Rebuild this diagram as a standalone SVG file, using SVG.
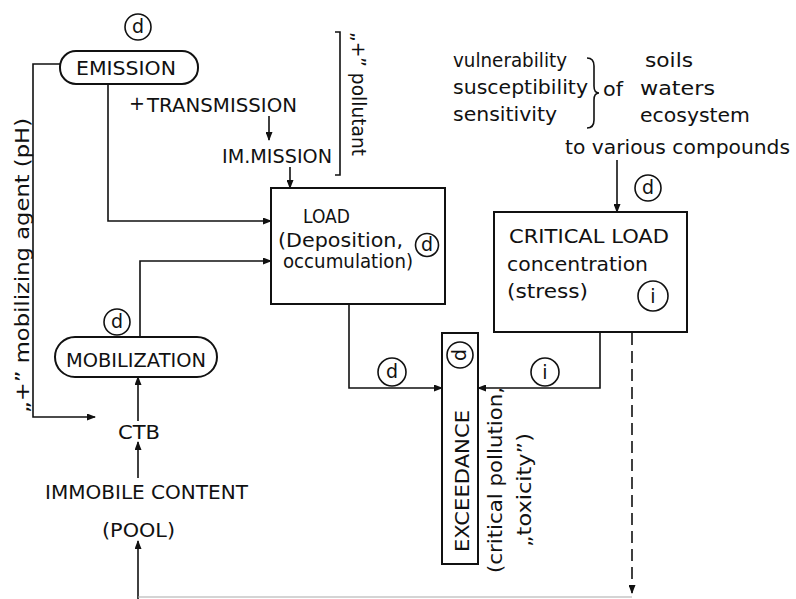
<svg xmlns="http://www.w3.org/2000/svg" width="796" height="599" viewBox="0 0 796 599">
<style>
  text { font-family: "DejaVu Sans", "Liberation Sans", sans-serif; font-size: 19px; fill: #111; }
  .ln { fill: none; stroke: #111; stroke-width: 1.6; }
  .box { fill: #fff; stroke: #111; stroke-width: 2; }
  .circ { fill: #fff; stroke: #111; stroke-width: 1.6; }
  .lab { text-anchor: middle; font-size: 19px; }
  .dash { fill: none; stroke: #111; stroke-width: 1.6; stroke-dasharray: 12 6; }
</style>
<defs>
  <marker id="ah" markerWidth="9" markerHeight="7" refX="8" refY="3.5" orient="auto" markerUnits="userSpaceOnUse">
    <path d="M0,0 L9,3.5 L0,7 Z" fill="#111"/>
  </marker>
</defs>
<rect x="0" y="0" width="796" height="599" fill="#fff"/>

<g id="connectors">
  <path class="ln" d="M60,64 H33 V417 H95" marker-end="url(#ah)"/>
  <path class="ln" d="M108,84 V221 H271" marker-end="url(#ah)"/>
  <path class="ln" d="M269,116 V140" marker-end="url(#ah)"/>
  <path class="ln" d="M290,167 V188" marker-end="url(#ah)"/>
  <path class="ln" d="M140,337 V261 H271" marker-end="url(#ah)"/>
  <path class="ln" d="M138,421 V377" marker-end="url(#ah)"/>
  <path class="ln" d="M138,478 V442" marker-end="url(#ah)"/>
  <path class="ln" d="M138,599 V541" marker-end="url(#ah)"/>
  <path d="M138,597 H632" fill="none" stroke="#aaa" stroke-width="1.2"/>
  <path class="dash" d="M632,333 V593" marker-end="url(#ah)"/>
  <path class="ln" d="M617,160 V212" marker-end="url(#ah)"/>
  <path class="ln" d="M349,304 V388 H442" marker-end="url(#ah)"/>
  <path class="ln" d="M600,332 V388 H478" marker-end="url(#ah)"/>
  <path class="ln" d="M335,32 H340 V175 H335"/>
  <path class="ln" d="M587,58 Q594,58 594,66 V86 Q594,93 599,93 Q594,93 594,100 V120 Q594,128 587,128"/>
</g>

<g id="emission">
  <circle class="circ" cx="138" cy="27" r="13"/>
  <text class="lab" x="138" y="33">d</text>
  <rect class="box" x="60" y="51" width="138" height="33" rx="16" stroke-width="1.8"/>
  <text x="76" y="75" textLength="100" lengthAdjust="spacingAndGlyphs">EMISSION</text>
</g>

<g id="transmission">
  <text x="129" y="110" font-size="14">+</text>
  <text x="147" y="112" textLength="150" lengthAdjust="spacingAndGlyphs">TRANSMISSION</text>
</g>

<g id="immission">
  <text x="222" y="163" textLength="110" lengthAdjust="spacingAndGlyphs">IM.MISSION</text>
</g>

<g id="pollutant">
  <text transform="translate(352,32) rotate(90)" textLength="124" lengthAdjust="spacingAndGlyphs">„+” pollutant</text>
</g>

<g id="mobilizing-agent">
  <text transform="translate(29,413) rotate(-90)" textLength="295" lengthAdjust="spacingAndGlyphs">„+” mobilizing agent (pH)</text>
</g>

<g id="load">
  <rect class="box" x="271" y="188" width="174" height="116"/>
  <text x="303" y="223" textLength="47" lengthAdjust="spacingAndGlyphs">LOAD</text>
  <text x="278" y="247" textLength="125" lengthAdjust="spacingAndGlyphs">(Deposition,</text>
  <text x="283" y="268" textLength="130" lengthAdjust="spacingAndGlyphs">occumulation)</text>
  <circle class="circ" cx="427" cy="245" r="11.5"/>
  <text class="lab" x="427" y="251" font-size="17">d</text>
</g>

<g id="vulnerability">
  <text x="453" y="67" textLength="114" lengthAdjust="spacingAndGlyphs">vulnerability</text>
  <text x="453" y="94" textLength="135" lengthAdjust="spacingAndGlyphs">susceptibility</text>
  <text x="453" y="121" textLength="104" lengthAdjust="spacingAndGlyphs">sensitivity</text>
  <text x="603" y="96" textLength="20" lengthAdjust="spacingAndGlyphs">of</text>
  <text x="645" y="67" textLength="48" lengthAdjust="spacingAndGlyphs">soils</text>
  <text x="640" y="95" textLength="75" lengthAdjust="spacingAndGlyphs">waters</text>
  <text x="640" y="122" textLength="110" lengthAdjust="spacingAndGlyphs">ecosystem</text>
  <text x="565" y="154" textLength="225" lengthAdjust="spacingAndGlyphs">to various compounds</text>
  <circle class="circ" cx="648" cy="188" r="13"/>
  <text class="lab" x="648" y="194">d</text>
</g>

<g id="critical-load">
  <rect class="box" x="494" y="212" width="193" height="120"/>
  <text x="509" y="243" textLength="160" lengthAdjust="spacingAndGlyphs">CRITICAL LOAD</text>
  <text x="507" y="271" textLength="141" lengthAdjust="spacingAndGlyphs">concentration</text>
  <text x="507" y="298" textLength="81" lengthAdjust="spacingAndGlyphs">(stress)</text>
  <circle class="circ" cx="653" cy="296" r="15"/>
  <text class="lab" x="653" y="303">i</text>
</g>

<g id="mobilization">
  <circle class="circ" cx="117" cy="322" r="13"/>
  <text class="lab" x="117" y="328">d</text>
  <rect class="box" x="55" y="337" width="162" height="40" rx="20" stroke-width="1.8"/>
  <text x="66" y="367" textLength="140" lengthAdjust="spacingAndGlyphs">MOBILIZATION</text>
</g>

<g id="ctb">
  <text x="118" y="439" textLength="42" lengthAdjust="spacingAndGlyphs">CTB</text>
</g>

<g id="immobile-content">
  <text x="45" y="499" textLength="203" lengthAdjust="spacingAndGlyphs">IMMOBILE CONTENT</text>
  <text x="102" y="537" textLength="73" lengthAdjust="spacingAndGlyphs">(POOL)</text>
</g>

<g id="exceedance">
  <rect class="box" x="442" y="333" width="36" height="231"/>
  <g transform="translate(460,355) rotate(-90)">
    <circle class="circ" cx="0" cy="0" r="13"/>
    <text class="lab" x="0" y="6">d</text>
  </g>
  <text transform="translate(469,552) rotate(-90)" textLength="142" lengthAdjust="spacingAndGlyphs">EXCEEDANCE</text>
  <text transform="translate(502,573) rotate(-90)" textLength="186" lengthAdjust="spacingAndGlyphs">(critical pollution,</text>
  <text transform="translate(531,547) rotate(-90)" textLength="114" lengthAdjust="spacingAndGlyphs">„toxicity”)</text>
</g>

<g id="exceedance-inputs">
  <circle class="circ" cx="392" cy="372" r="14"/>
  <text class="lab" x="392" y="378">d</text>
  <circle class="circ" cx="545" cy="372" r="14"/>
  <text class="lab" x="545" y="379">i</text>
</g>
</svg>
